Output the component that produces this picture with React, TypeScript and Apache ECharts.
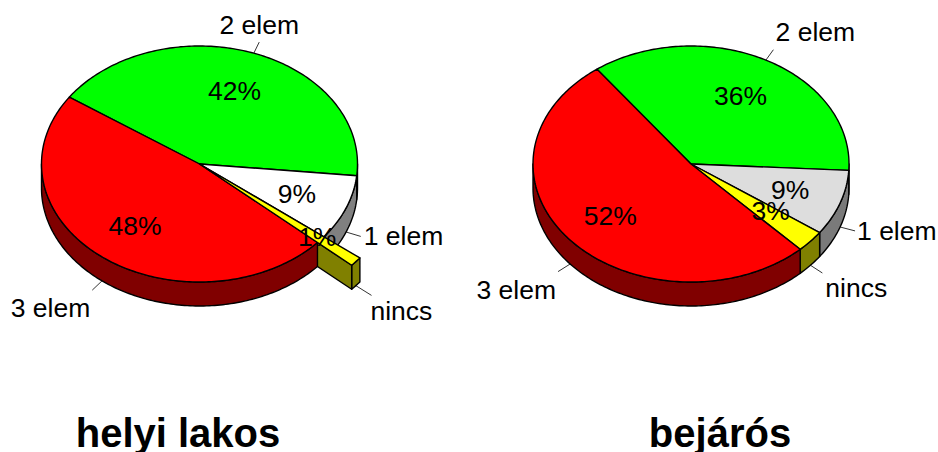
import React, { useEffect, useRef } from "react";
import * as echarts from "echarts";

const categories = ["2 elem", "1 elem", "nincs", "3 elem"];
const helyiValues = [42, 9, 1, 48];
const bejarosValues = [36, 9, 3, 52];
const titles = ["helyi lakos", "bejárós"];

const FONT = '"Liberation Sans", Arial, sans-serif';
const RX = 158;
const RY = 118;
const DEPTH = 24;
const rad = (d: number) => (d * Math.PI) / 180;

const helyiLayout = {
  cx: 199.5,
  cy: 164,
  start: 214.5,
  top: ["#00ff00", "#ffffff", "#ffff00", "#ff0000"],
  side: ["#008000", "#808080", "#808000", "#800000"],
  explode: [1, 1, 1.29, 1],
  labels: [
    { dx: 0, dy: -17, align: "center" },
    { dx: 3, dy: 0, align: "left" },
    { dx: -1, dy: 16, align: "left" },
    { dx: -2, dy: 18, align: "right" },
  ],
  pct: [
    { dx: 0, dy: -1.5 },
    { dx: 2, dy: -1 },
    { dx: 3, dy: -2 },
    { dx: 0, dy: -2 },
  ],
};
const bejarosLayout = {
  cx: 691,
  cy: 164,
  start: 233.5,
  top: ["#00ff00", "#dddddd", "#ffff00", "#ff0000"],
  side: ["#008000", "#7a7a7a", "#808000", "#800000"],
  explode: [1, 1, 1, 1],
  labels: [
    { dx: 42, dy: -18, align: "center" },
    { dx: 2, dy: 0, align: "left" },
    { dx: 3, dy: 15, align: "left" },
    { dx: -2, dy: 18, align: "right" },
  ],
  pct: [
    { dx: 1, dy: -1 },
    { dx: 2, dy: -2 },
    { dx: 2, dy: -6 },
    { dx: -1, dy: -1 },
  ],
};

function pieSeries(values: number[], layout: any) {
  const total = values.reduce((a, b) => a + b, 0);
  const ranges: [number, number][] = [];
  let acc = layout.start;
  values.forEach((v) => {
    const next = acc + (v / total) * 360;
    ranges.push([acc, next]);
    acc = next;
  });
  const lineStyle = { stroke: "#000", lineWidth: 1.4, lineJoin: "round" };

  return {
    type: "custom",
    coordinateSystem: "none",
    silent: true,
    data: values.map((v, i) => ({ name: categories[i], value: v })),
    renderItem: (params: any) => {
      const i = params.dataIndex;
      const [t0, t1] = ranges[i];
      const k = layout.explode[i];
      const { cx, cy } = layout;
      const px = (t: number, f = k) => cx + RX * f * Math.cos(rad(t));
      const py = (t: number, f = k) => cy + RY * f * Math.sin(rad(t));
      const arc = (a: number, b: number, d = 0) => {
        const pts: number[][] = [];
        const n = Math.max(1, Math.ceil(Math.abs(b - a)));
        for (let s = 0; s <= n; s++) {
          const t = a + ((b - a) * s) / n;
          pts.push([px(t), py(t) + d]);
        }
        return pts;
      };
      const base = i * 10;
      const children: any[] = [];

      // outer wall, only on the near half of the ellipse
      [0, 360].forEach((o) => {
        const a = Math.max(t0, o);
        const b = Math.min(t1, o + 180);
        if (a < b) {
          children.push({
            type: "polygon",
            z2: base,
            shape: { points: [...arc(a, b), ...arc(b, a, DEPTH)] },
            style: { ...lineStyle, fill: layout.side[i] },
          });
        }
      });

      // pulled-out slice: its cut face towards the viewer
      if (k > 1) {
        children.push({
          type: "polygon",
          z2: base,
          shape: {
            points: [
              [cx, cy],
              [px(t1), py(t1)],
              [px(t1), py(t1) + DEPTH],
              [cx, cy + DEPTH],
            ],
          },
          style: { ...lineStyle, fill: layout.side[i] },
        });
      }

      // top face
      children.push({
        type: "polygon",
        z2: k > 1 ? base + 25 : base + 1,
        shape: { points: [[cx, cy], ...arc(t0, t1)] },
        style: { ...lineStyle, fill: layout.top[i] },
      });

      // percent label
      const mid = (t0 + t1) / 2;
      const isNear = Math.sin(rad(mid)) > 0;
      const pctF = k > 1 ? 1.45 : 1;
      const nudge = layout.pct[i];
      children.push({
        type: "text",
        z2: 100,
        style: {
          x: cx + RX * pctF * 0.655 * Math.cos(rad(mid)) - 0.5 + nudge.dx,
          y: cy + RY * pctF * 0.665 * Math.sin(rad(mid)) + 2 + nudge.dy,
          text: `${values[i]}%`,
          fill: "#000",
          font: `26.5px ${FONT}`,
          textAlign: "center",
          textVerticalAlign: "middle",
        },
      });

      // leader line and category label
      const d = isNear ? DEPTH : 0;
      const ex = px(mid, k * 1.1);
      const ey = py(mid, k * 1.1) + d;
      children.push({
        type: "line",
        z2: 90,
        shape: { x1: px(mid), y1: py(mid) + d, x2: ex, y2: ey },
        style: { stroke: "#000", lineWidth: 0.8 },
      });
      const lab = layout.labels[i];
      children.push({
        type: "text",
        z2: 100,
        style: {
          x: ex + lab.dx,
          y: ey + lab.dy,
          text: categories[i],
          fill: "#000",
          font: `26.5px ${FONT}`,
          textAlign: lab.align,
          textVerticalAlign: "middle",
        },
      });

      return { type: "group", children };
    },
  };
}

export default function App() {
  const ref = useRef<HTMLDivElement>(null);
  useEffect(() => {
    document.body.style.margin = "0";
    const chart = echarts.init(ref.current!, null, { renderer: "svg" });
    const titleStyle = { color: "#000", fontFamily: FONT, fontSize: 40, fontWeight: "bold" as const };
    chart.setOption({
      animation: false,
      backgroundColor: "#fff",
      title: [
        { text: titles[0], left: 178, top: 413, textAlign: "center", textStyle: titleStyle, padding: 0 },
        { text: titles[1], left: 720, top: 413, textAlign: "center", textStyle: titleStyle, padding: 0 },
      ],
      series: [pieSeries(helyiValues, helyiLayout), pieSeries(bejarosValues, bejarosLayout)],
    });
    return () => chart.dispose();
  }, []);
  return <div ref={ref} style={{ width: 938, height: 452 }} />;
}
